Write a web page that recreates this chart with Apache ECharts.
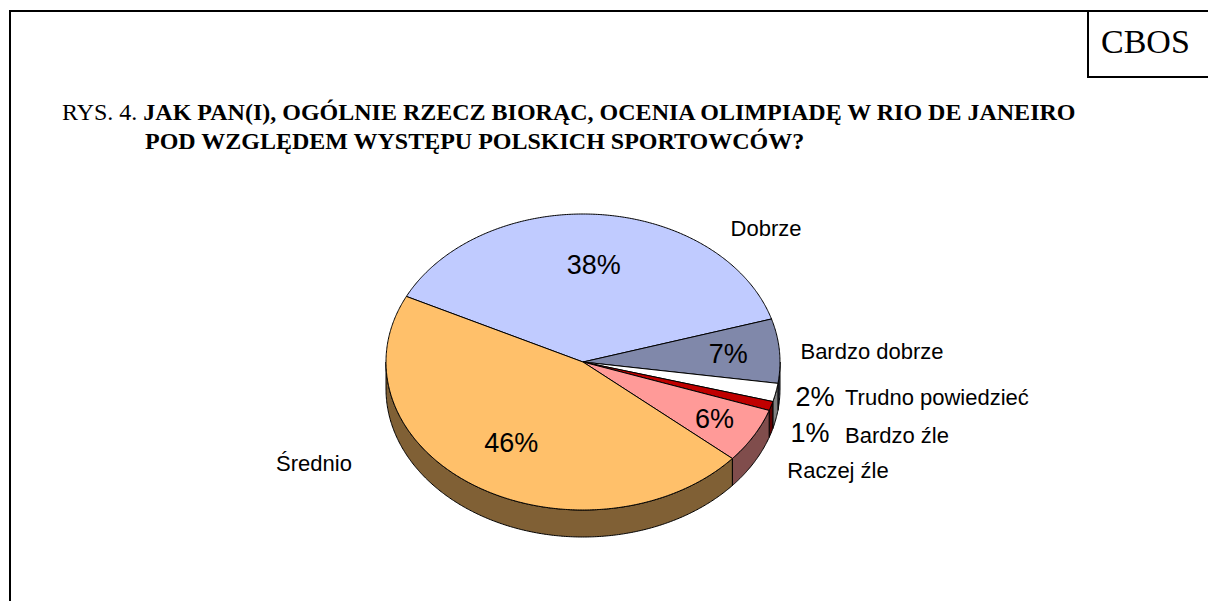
<!DOCTYPE html>
<html>
<head>
<meta charset="utf-8">
<script src="https://cdn.jsdelivr.net/npm/echarts@6/dist/echarts.min.js"></script>
<style>
html,body{margin:0;padding:0;background:#fff;}
#chart{width:1208px;height:601px;}
</style>
</head>
<body>
<div id="chart"></div>
<script>
// ---- data ----
const categories = ['Dobrze', 'Bardzo dobrze', 'Trudno powiedzieć', 'Bardzo źle', 'Raczej źle', 'Średnio'];
const values = [38, 7, 2, 1, 6, 46];
const pctLabels = ['38%', '7%', '2%', '1%', '6%', '46%'];
const titleLine1Prefix = 'RYS. 4. ';
const titleLine1 = 'JAK PAN(I), OGÓLNIE RZECZ BIORĄC, OCENIA OLIMPIADĘ W RIO DE JANEIRO';
const titleLine2 = 'POD WZGLĘDEM WYSTĘPU POLSKICH SPORTOWCÓW?';
const sourceLabel = 'CBOS';

// ---- styles / layout ----
const topColors = ['#C0CBFF', '#8088AA', '#FFFFFF', '#C00000', '#FF9A98', '#FFC06A'];
const pie = { cx: 583, cy: 362, rx: 197, ry: 148, depth: 27, startAngle: 153.7 };
// inside percent label radius factor (null = placed outside)
const pctInside = [0.66, 0.74, null, null, 0.77, 0.66];
// outside label offsets relative to pie centre
const outsidePct = [null, null, [232, 35], [227, 71], null, null];
const nameLayout = [
  { dx: 183, dy: -134, align: 'center' },
  { dx: 289, dy: -11, align: 'center' },
  { dx: 262, dy: 35, align: 'left' },
  { dx: 262, dy: 73, align: 'left' },
  { dx: 255, dy: 108, align: 'center' },
  { dx: -269, dy: 101, align: 'center' }
];

function shade(hex, f) {
  const n = parseInt(hex.slice(1), 16);
  const r = Math.round(((n >> 16) & 255) * f), g = Math.round(((n >> 8) & 255) * f), b = Math.round((n & 255) * f);
  return 'rgb(' + r + ',' + g + ',' + b + ')';
}
const total = values.reduce((a, b) => a + b, 0);

function pt(a, dy) {
  const r = a * Math.PI / 180;
  return [pie.cx + pie.rx * Math.cos(r), pie.cy - pie.ry * Math.sin(r) + (dy || 0)];
}
function arc(a0, a1, dy) {
  const pts = [];
  const n = Math.max(2, Math.ceil(Math.abs(a1 - a0) / 0.5));
  for (let k = 0; k <= n; k++) pts.push(pt(a0 + (a1 - a0) * k / n, dy));
  return pts;
}

function renderItem(params, api) {
  const i = params.dataIndex;
  const v = api.value(0);
  let before = 0;
  for (let k = 0; k < i; k++) before += values[k];
  const s = pie.startAngle - before / total * 360;
  const e = s - v / total * 360;
  const children = [];
  // side wall (front half only)
  [-360, 0, 360].forEach(off => {
    const lo = Math.max(e, -180 + off), hi = Math.min(s, 0 + off);
    if (hi > lo) {
      const topArc = arc(hi, lo, 0);
      const botArc = arc(lo, hi, pie.depth);
      children.push({
        type: 'polygon', z2: 1,
        shape: { points: topArc.concat(botArc) },
        style: { fill: shade(topColors[i], 0.5), stroke: '#000', lineWidth: 1 }
      });
    }
  });
  // top face
  children.push({
    type: 'polygon', z2: 5,
    shape: { points: [[pie.cx, pie.cy]].concat(arc(s, e, 0)) },
    style: { fill: topColors[i], stroke: '#000', lineWidth: 1 }
  });
  // percent label
  const mid = (s + e) / 2;
  let px, py;
  if (pctInside[i] != null) {
    const r = mid * Math.PI / 180;
    px = pie.cx + pie.rx * pctInside[i] * Math.cos(r);
    py = pie.cy - pie.ry * pctInside[i] * Math.sin(r);
  } else {
    px = pie.cx + outsidePct[i][0];
    py = pie.cy + outsidePct[i][1];
  }
  children.push({
    type: 'text', z2: 10, x: px, y: py,
    style: { text: pctLabels[i], fontFamily: 'Liberation Sans, Arial, sans-serif', fontSize: 27, fill: '#000', align: 'center', verticalAlign: 'middle' }
  });
  const nl = nameLayout[i];
  children.push({
    type: 'text', z2: 10, x: pie.cx + nl.dx, y: pie.cy + nl.dy,
    style: { text: categories[i], fontFamily: 'Liberation Sans, Arial, sans-serif', fontSize: 22, fill: '#000', align: nl.align, verticalAlign: 'middle' }
  });
  return { type: 'group', children: children };
}

const chart = echarts.init(document.getElementById('chart'), null, { renderer: 'svg' });
chart.setOption({
  animation: false,
  backgroundColor: '#fff',
  title: [
    {
      text: '{r|' + titleLine1Prefix + '}{b|' + titleLine1 + '}',
      left: 62, top: 100, padding: 0,
      textStyle: {
        rich: {
          r: { fontFamily: 'Liberation Serif, Times New Roman, serif', fontSize: 24, fontWeight: 'normal', color: '#000' },
          b: { fontFamily: 'Liberation Serif, Times New Roman, serif', fontSize: 24, fontWeight: 'bold', color: '#000' }
        }
      }
    },
    {
      text: titleLine2,
      left: 145, top: 129, padding: 0,
      textStyle: { fontFamily: 'Liberation Serif, Times New Roman, serif', fontSize: 24, fontWeight: 'bold', color: '#000' }
    },
    {
      text: sourceLabel,
      left: 1101, top: 24, padding: 0,
      textStyle: { fontFamily: 'Liberation Serif, Times New Roman, serif', fontSize: 34, fontWeight: 'normal', color: '#000' }
    }
  ],
  graphic: [
    { type: 'line', shape: { x1: 10, y1: 11, x2: 1208, y2: 11 }, style: { stroke: '#000', lineWidth: 2 } },
    { type: 'line', shape: { x1: 10, y1: 10, x2: 10, y2: 601 }, style: { stroke: '#000', lineWidth: 2 } },
    { type: 'line', shape: { x1: 1088, y1: 11, x2: 1088, y2: 77 }, style: { stroke: '#000', lineWidth: 2 } },
    { type: 'line', shape: { x1: 1087, y1: 77, x2: 1208, y2: 77 }, style: { stroke: '#000', lineWidth: 2 } }
  ],
  series: [{
    type: 'custom',
    coordinateSystem: 'none',
    renderItem: renderItem,
    data: values.map(v => [v])
  }]
});
</script>
</body>
</html>
